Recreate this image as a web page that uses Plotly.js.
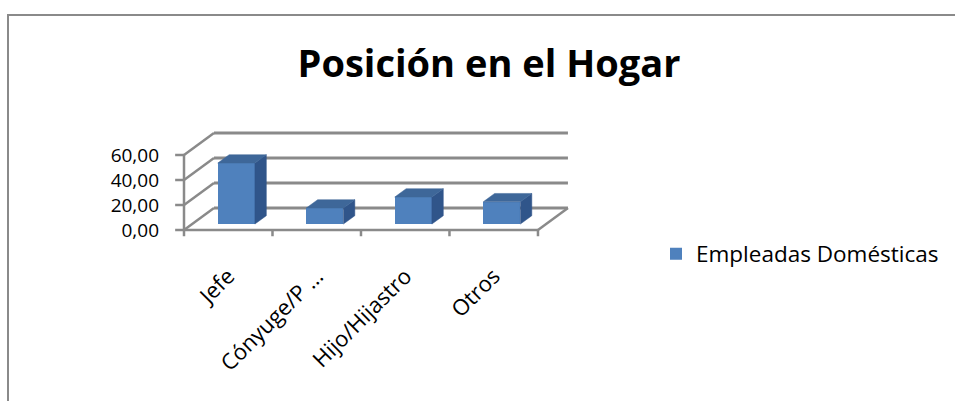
<!DOCTYPE html>
<html>
<head>
<meta charset="utf-8">
<script src="https://cdn.plot.ly/plotly-3.0.1.min.js"></script>
<style>
  html, body { margin: 0; padding: 0; background: #fff; }
  #wrap { position: relative; width: 955px; height: 401px; overflow: hidden; }
  #chart { position: absolute; left: 0; top: 0; width: 955px; height: 401px; }
  #frame { position: absolute; left: 7px; top: 14px; width: 960px; height: 400px;
           border-left: 2px solid #8a8a8a; border-top: 2px solid #8a8a8a; pointer-events: none; }
</style>
</head>
<body>
<div id="wrap">
  <div id="chart"></div>
  <div id="frame"></div>
</div>
<script>
// ---- data ----
const chartTitle = 'Posición en el Hogar';
const categories = ['Jefe', 'Cónyuge/P …', 'Hijo/Hijastro', 'Otros'];
const values = [48.8, 12.8, 21.6, 17.8];
const seriesName = 'Empleadas Domésticas';
const yTickVals = [0, 20, 40, 60];
const yTickText = ['0,00', '20,00', '40,00', '60,00'];

// ---- 3D projection constants (in axis units) ----
const DX = 0.339;   // depth offset along x (category units)
const DY = 17.6;    // depth offset along y (value units)
const F0 = 0.27, F1 = 0.65; // bar front/back depth fractions
const HW = 0.21;    // bar half width
const n = categories.length;
const idx = categories.map((c, i) => i);

const FRONT = '#4F81BD', TOP = '#3E6799', SIDE = '#30558A', GRID = '#8a8a8a';

// front faces (real bar trace)
const frontTrace = {
  type: 'bar', name: seriesName,
  x: idx.map(i => i + F0 * DX),
  y: values,
  base: idx.map(() => F0 * DY),
  width: 2 * HW,
  marker: { color: FRONT, line: { width: 0 } },
  hoverinfo: 'skip', showlegend: true
};

// top and side faces built from the same values
const topX = [], topY = [], sideX = [], sideY = [];
values.forEach((v, i) => {
  const l = i - HW, r = i + HW;
  topX.push(l + F0 * DX, r + F0 * DX, r + F1 * DX, l + F1 * DX, l + F0 * DX, null);
  topY.push(v + F0 * DY, v + F0 * DY, v + F1 * DY, v + F1 * DY, v + F0 * DY, null);
  sideX.push(r + F0 * DX, r + F1 * DX, r + F1 * DX, r + F0 * DX, r + F0 * DX, null);
  sideY.push(F0 * DY, F1 * DY, v + F1 * DY, v + F0 * DY, F0 * DY, null);
});
const topTrace = { type: 'scatter', mode: 'lines', x: topX, y: topY, fill: 'toself',
  fillcolor: TOP, line: { color: TOP, width: 0.5 }, hoverinfo: 'skip', showlegend: false };
const sideTrace = { type: 'scatter', mode: 'lines', x: sideX, y: sideY, fill: 'toself',
  fillcolor: SIDE, line: { color: SIDE, width: 0.5 }, hoverinfo: 'skip', showlegend: false };

// walls, floor, axes as shapes from tick arrays
const shapes = [];
const seg = (x0, y0, x1, y1, w) => shapes.push({ type: 'line', xref: 'x', yref: 'y', layer: 'below',
  x0, y0, x1, y1, line: { color: GRID, width: w || 2.5 } });
const xL = -0.5, xR = n - 0.5;
yTickVals.forEach(v => {
  seg(xL + DX, v + DY, xR + DX, v + DY, 3);       // back wall gridline
  seg(xL, v, xL + DX, v + DY, 2.5);              // side wall diagonal
  seg(xL - 0.1, v, xL, v, 2.5);                  // y tick mark
});
seg(xL, 0, xL, yTickVals[yTickVals.length - 1], 2.5); // vertical axis
seg(xL, 0, xR, 0, 2.5);                          // floor front edge
seg(xR, 0, xR + DX, DY, 2.5);                    // floor right edge
for (let b = 0; b <= n; b++) seg(b - 0.5, 0, b - 0.5, -5, 2.5); // category boundary ticks

const FONT = '"Open Sans", Lato, sans-serif';
const layout = {
  width: 955, height: 401,
  margin: { l: 174, r: 385, t: 130, b: 163, pad: 0 },
  paper_bgcolor: '#fff', plot_bgcolor: 'rgba(0,0,0,0)',
  font: { family: FONT, color: '#000' },
  title: { text: '<b>' + chartTitle + '</b>', font: { family: FONT, size: 38, color: '#000' },
           xref: 'container', x: 489 / 955, xanchor: 'center', yref: 'container', y: 1 - 64 / 401, yanchor: 'middle' },
  xaxis: { range: [-0.613, 3.862], showgrid: false, zeroline: false, showline: false, ticks: '',
           tickvals: idx, ticktext: categories, tickangle: -45, ticklabelstandoff: 20,
           tickfont: { family: FONT, size: 22, color: '#000' }, fixedrange: true },
  yaxis: { range: [-6.4, 80], showgrid: false, zeroline: false, showline: false, ticks: '',
           tickvals: yTickVals, ticktext: yTickText, ticklabelstandoff: 14,
           tickfont: { family: FONT, size: 19, color: '#000' }, fixedrange: true },
  shapes: shapes,
  showlegend: true,
  legend: { xref: 'container', yref: 'container', x: 656 / 955, y: 1 - 254 / 401,
            xanchor: 'left', yanchor: 'middle', font: { family: FONT, size: 22.5, color: '#000' },
            bgcolor: 'rgba(0,0,0,0)' },
  bargap: 0
};
Plotly.newPlot('chart', [sideTrace, topTrace, frontTrace], layout, { displayModeBar: false, staticPlot: true });
</script>
</body>
</html>
